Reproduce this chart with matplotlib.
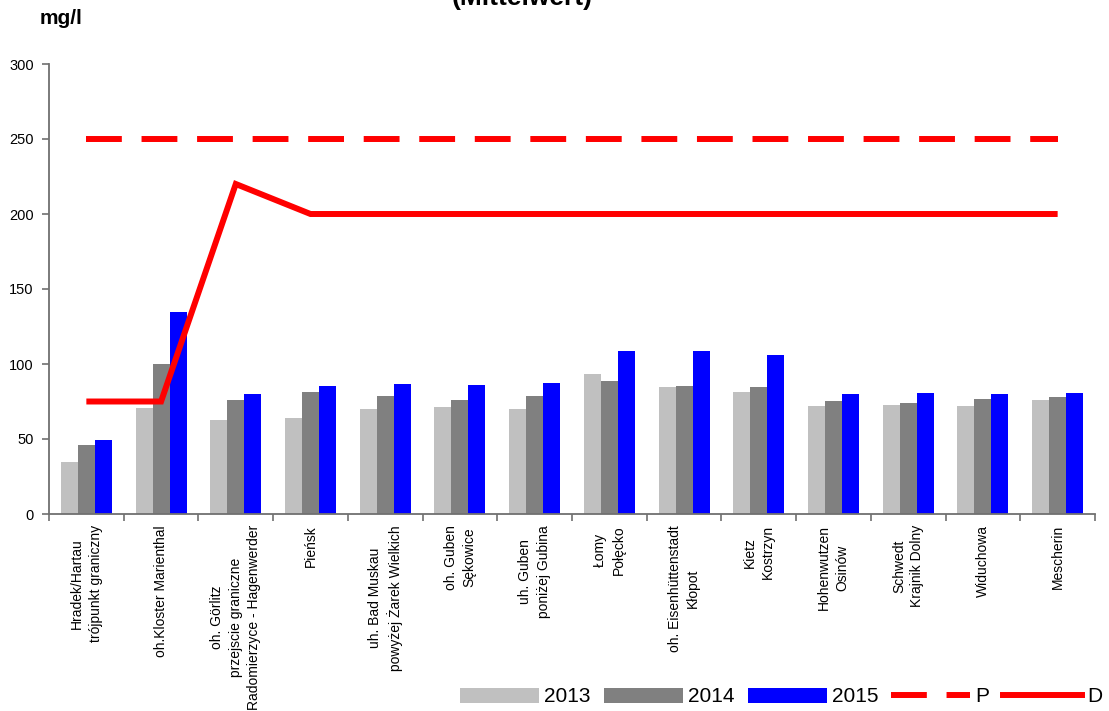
import matplotlib
matplotlib.use("Agg")
import matplotlib.pyplot as plt
from matplotlib.patches import Patch
from matplotlib.lines import Line2D
import numpy as np

plt.rcParams['font.family'] = ['Liberation Sans', 'DejaVu Sans']

categories = [
    "Hradek/Hartau\ntrójpunkt graniczny",
    "oh.Kloster Marienthal",
    "oh. Görlitz\nprzejscie graniczne\nRadomierzyce - Hagenwerder",
    "Pieńsk",
    "uh. Bad Muskau\npowyżej Żarek Wielkich",
    "oh. Guben\nSękowice",
    "uh. Guben\nponiżej Gubina",
    "Łomy\nPołęcko",
    "oh. Eisenhüttenstadt\nKłopot",
    "Kietz\nKostrzyn",
    "Hohenwutzen\nOsinów",
    "Schwedt\nKrajnik Dolny",
    "Widuchowa",
    "Mescherin",
]
v2013 = [34.7, 70.9, 62.7, 64.0, 70.0, 71.3, 70.0, 93.3, 84.7, 81.3, 72.0, 72.7, 72.0, 76.0]
v2014 = [46.0, 100.0, 76.0, 81.3, 78.7, 76.0, 78.7, 88.7, 85.3, 84.7, 75.3, 74.0, 76.7, 78.0]
v2015 = [49.3, 134.7, 80.0, 85.3, 86.7, 86.0, 87.3, 108.7, 108.7, 106.0, 80.0, 80.7, 80.0, 80.7]
P = [250] * 14
D = [75, 75, 220, 200, 200, 200, 200, 200, 200, 200, 200, 200, 200, 200]
series_labels = ["2013", "2014", "2015", "P", "D"]
yticks = [0, 50, 100, 150, 200, 250, 300]

fig = plt.figure(figsize=(11.09, 7.11), dpi=100)
ax = fig.add_axes([49/1109, 1-514/711, (1095-49)/1109, (514-64)/711])

x = np.arange(len(categories))
w = 0.228
ax.bar(x - w, v2013, w, color='#C0C0C0', zorder=2)
ax.bar(x, v2014, w, color='#808080', zorder=2)
ax.bar(x + w, v2015, w, color='#0000FF', zorder=2)

lw = 4.3
ax.plot(x, P, color='#FF0000', lw=lw, dashes=(6, 3.3), zorder=3, dash_capstyle='butt')
ax.plot(x, D, color='#FF0000', lw=lw, zorder=3, solid_joinstyle='miter', solid_capstyle='butt')

ax.set_xlim(-0.5, len(categories) - 0.5)
ax.set_ylim(0, 300)
ax.set_yticks(yticks)
ax.set_yticklabels([str(t) for t in yticks], fontsize=10.5)

ax.set_xticks(x)
ax.set_xticklabels(categories, rotation=90, fontsize=10, ha='center', va='top',
                   multialignment='center', linespacing=1.4)
ax.tick_params(axis='x', which='major', length=0, pad=8)
ax.set_xticks(np.arange(len(categories) + 1) - 0.5, minor=True)
ax.tick_params(axis='x', which='minor', length=5, width=1.2, color='#707070', direction='out')
ax.tick_params(axis='y', length=5, width=1.2, color='#707070', direction='out', pad=6)

for s in ['top', 'right']:
    ax.spines[s].set_visible(False)
for s in ['left', 'bottom']:
    ax.spines[s].set_color('#707070')
    ax.spines[s].set_linewidth(1.3)

fig.text(40/1109, 1-19/711, "mg/l", fontsize=15, fontweight='bold', ha='left', va='center')
fig.text(522/1109, 1-5/711, "(Mittelwert)", fontsize=19, fontweight='bold', ha='center', va='baseline')

handles = [
    Patch(facecolor='#C0C0C0', edgecolor='none'),
    Patch(facecolor='#808080', edgecolor='none'),
    Patch(facecolor='#0000FF', edgecolor='none'),
    Line2D([], [], color='#FF0000', lw=lw, dashes=(6, 3.3)),
    Line2D([], [], color='#FF0000', lw=lw),
]
leg = fig.legend(handles, series_labels, loc='center right', bbox_to_anchor=(1104/1109, 1-697/711),
                 bbox_transform=fig.transFigure, ncol=5, frameon=False, fontsize=15,
                 handlelength=3.8, handleheight=0.72, handletextpad=0.24, columnspacing=0.63,
                 borderpad=0.1, borderaxespad=0)

fig.savefig("out.png", dpi=100)
